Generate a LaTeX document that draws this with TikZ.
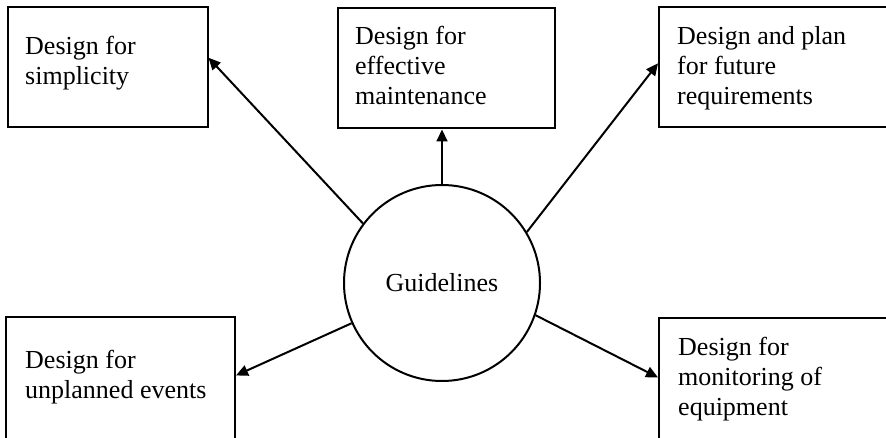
\documentclass[tikz,border=0pt]{standalone}
\usepackage{fontspec}
\setmainfont{Liberation Serif}
\usetikzlibrary{arrows.meta,calc}
\begin{document}
\begin{tikzpicture}[x=1pt,y=-1pt,
  frame/.style={draw, rectangle, line width=2pt, inner sep=0pt},
  lbl/.style={anchor=north west, inner sep=0pt, align=left,
              font=\fontsize{26}{30}\selectfont},
  arr/.style={line width=2pt, -{Triangle[length=12pt,width=11pt]}}]
\clip (0,0) rectangle (886,438);
\fill[white] (0,0) rectangle (886,438);

% central hub
\node[circle, draw, line width=2pt, minimum size=196pt, inner sep=0pt,
      font=\fontsize{26}{30}\selectfont] (g) at (442,283) {Guidelines};

% outer boxes
\node[frame, minimum width=200pt, minimum height=120pt] (b1) at (107.5,67.5) {};
\node[frame, minimum width=217pt, minimum height=120pt] (b2) at (446,68.5) {};
\node[frame, minimum width=236pt, minimum height=120pt] (b3) at (777,67) {};
\node[frame, minimum width=229pt, minimum height=143pt] (b4) at (120.5,388.5) {};
\node[frame, minimum width=236pt, minimum height=142pt] (b5) at (777,389) {};

% box texts
\node[lbl] (t1) at (25,36)  {Design for\\simplicity};
\node[lbl] (t2) at (355,26) {Design for\\effective\\maintenance};
\node[lbl] (t3) at (677,26) {Design and plan\\for future\\requirements};
\node[lbl] (t4) at (25,350) {Design for\\unplanned events};
\node[lbl] (t5) at (678,337) {Design for\\monitoring of\\equipment};

% connectors
\draw[arr] (g.143) -- ($(b1.north east)!0.42!(b1.south east)$);
\draw[arr] (g.north) -- (g.north |- b2.south);
\draw[arr] (g.31)  -- ($(b3.north west)!0.47!(b3.south west)$);
\draw[arr] (g.204) -- ($(b4.north east)!0.41!(b4.south east)$);
\draw[arr] (g.341) -- ($(b5.north west)!0.42!(b5.south west)$);
\end{tikzpicture}
\end{document}
